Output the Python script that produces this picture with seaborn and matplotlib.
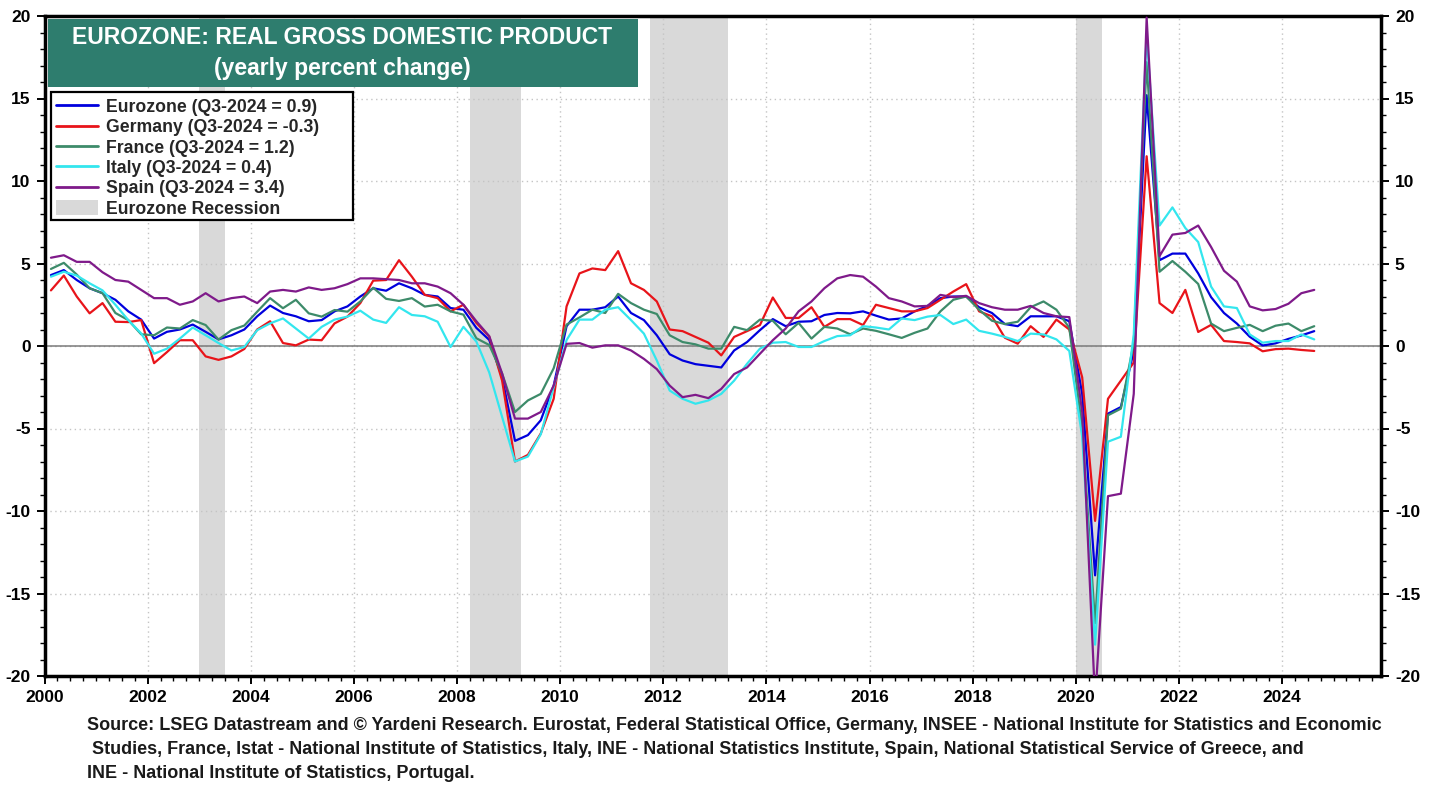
import numpy as np
import pandas as pd
import matplotlib
matplotlib.use("Agg")
import matplotlib.pyplot as plt
from matplotlib.lines import Line2D
from matplotlib.patches import Patch, Rectangle
from matplotlib.ticker import MultipleLocator
import seaborn as sns

# yearly % change of real GDP, quarterly from Q1-2000 to Q3-2024 (8 quarters per row)
eurozone = [4.3, 4.6, 4.0, 3.5, 3.2, 2.8, 2.1, 1.6,
            0.45, 0.86, 1.0, 1.3, 0.86, 0.4, 0.65, 1.0,
            1.8, 2.45, 2.0, 1.8, 1.5, 1.57, 2.1, 2.4,
            3.0, 3.5, 3.35, 3.8, 3.5, 3.1, 3.0, 2.3,
            2.2, 1.1, 0.37, -1.9, -5.75, -5.4, -4.5, -2.4,
            1.2, 2.2, 2.2, 2.35, 3.0, 2.0, 1.57, 0.65,
            -0.5, -0.88, -1.1, -1.2, -1.3, -0.27, 0.24, 0.96,
            1.63, 1.2, 1.47, 1.5, 1.88, 2.0, 1.98, 2.1,
            1.84, 1.6, 1.67, 2.1, 2.43, 2.9, 3.0, 3.0,
            2.35, 2.0, 1.33, 1.2, 1.8, 1.8, 1.8, 1.5,
            -2.9, -13.9, -4.1, -3.7, -0.3, 15.2, 5.2, 5.6,
            5.6, 4.4, 2.96, 2.0, 1.36, 0.56, 0.03, 0.16,
            0.43, 0.64, 0.9]
germany = [3.37, 4.27, 3.0, 1.98, 2.6, 1.47, 1.45, 1.57,
           -1.04, -0.37, 0.35, 0.35, -0.63, -0.84, -0.63, -0.18,
           1.0, 1.5, 0.18, 0.04, 0.39, 0.35, 1.37, 1.78,
           2.6, 3.96, 4.0, 5.2, 4.2, 3.1, 2.9, 2.1,
           2.5, 1.4, 0.57, -2.1, -7.0, -6.6, -5.3, -3.2,
           2.4, 4.4, 4.7, 4.6, 5.75, 3.8, 3.4, 2.7,
           1.0, 0.9, 0.55, 0.2, -0.57, 0.55, 0.9, 1.27,
           2.94, 1.7, 1.7, 2.35, 1.16, 1.63, 1.63, 1.27,
           2.5, 2.3, 2.1, 2.1, 2.3, 2.8, 3.3, 3.75,
           2.1, 1.8, 0.5, 0.14, 1.2, 0.55, 1.6, 1.0,
           -1.9, -10.6, -3.2, -2.1, -1.0, 11.5, 2.6, 2.0,
           3.4, 0.85, 1.28, 0.3, 0.24, 0.16, -0.32, -0.19,
           -0.16, -0.24, -0.3]
france = [4.67, 5.04, 4.33, 3.5, 3.2, 2.0, 1.57, 0.71,
          0.65, 1.12, 1.06, 1.57, 1.27, 0.39, 0.96, 1.24,
          2.08, 2.9, 2.29, 2.8, 1.98, 1.78, 2.18, 2.08,
          2.7, 3.53, 2.86, 2.73, 2.9, 2.39, 2.5, 2.1,
          1.9, 0.47, 0.06, -1.67, -4.0, -3.3, -2.9, -1.35,
          1.3, 1.73, 2.2, 2.0, 3.16, 2.6, 2.2, 1.94,
          0.65, 0.24, 0.1, -0.16, -0.16, 1.16, 0.96, 1.6,
          1.53, 0.71, 1.4, 0.45, 1.16, 1.06, 0.71, 1.06,
          0.92, 0.71, 0.49, 0.8, 1.06, 2.1, 2.8, 3.0,
          2.2, 1.53, 1.33, 1.47, 2.35, 2.7, 2.2, 1.1,
          -5.0, -16.8, -4.2, -3.8, 0.2, 17.2, 4.5, 5.15,
          4.5, 3.76, 1.36, 0.9, 1.1, 1.28, 0.9, 1.23,
          1.36, 0.9, 1.2]
italy = [4.2, 4.5, 4.27, 3.8, 3.37, 2.5, 1.57, 0.76,
         -0.47, -0.16, 0.45, 1.12, 0.65, 0.18, -0.27, -0.06,
         0.96, 1.37, 1.67, 1.06, 0.45, 1.16, 1.6, 1.78,
         2.14, 1.6, 1.4, 2.35, 1.88, 1.8, 1.47, -0.06,
         1.16, 0.27, -1.6, -4.3, -7.0, -6.7, -5.35, -2.5,
         0.36, 1.6, 1.6, 2.2, 2.35, 1.57, 0.75, -0.88,
         -2.7, -3.2, -3.5, -3.3, -2.9, -2.1, -1.08, -0.16,
         0.2, 0.24, -0.06, -0.06, 0.3, 0.6, 0.65, 1.2,
         1.12, 1.0, 1.67, 1.57, 1.78, 1.88, 1.33, 1.6,
         0.92, 0.75, 0.55, 0.3, 0.75, 0.7, 0.4, -0.3,
         -5.5, -18.1, -5.8, -5.5, 0.7, 18.9, 7.3, 8.4,
         7.15, 6.3, 3.6, 2.4, 2.3, 0.7, 0.2, 0.3,
         0.3, 0.7, 0.4]
spain = [5.35, 5.5, 5.1, 5.1, 4.47, 4.0, 3.9, 3.4,
         2.9, 2.9, 2.5, 2.7, 3.2, 2.7, 2.9, 3.0,
         2.6, 3.3, 3.4, 3.3, 3.55, 3.4, 3.5, 3.75,
         4.1, 4.1, 4.05, 4.0, 3.8, 3.8, 3.6, 3.2,
         2.5, 1.5, 0.6, -1.67, -4.4, -4.4, -4.0, -2.4,
         0.13, 0.18, -0.1, 0.04, 0.04, -0.27, -0.78, -1.4,
         -2.4, -3.1, -2.96, -3.16, -2.6, -1.7, -1.3, -0.47,
         0.35, 1.06, 2.1, 2.7, 3.5, 4.1, 4.3, 4.2,
         3.6, 2.9, 2.7, 2.4, 2.43, 3.1, 2.96, 3.04,
         2.6, 2.35, 2.2, 2.2, 2.43, 2.0, 1.8, 1.75,
         -4.0, -21.5, -9.1, -8.95, -2.9, 19.9, 5.45, 6.75,
         6.85, 7.3, 6.0, 4.56, 3.9, 2.4, 2.16, 2.24,
         2.56, 3.2, 3.4]

series_names = ["Eurozone", "Germany", "France", "Italy", "Spain"]
legend_labels = ["Eurozone (Q3-2024 = 0.9)", "Germany (Q3-2024 = -0.3)",
                 "France (Q3-2024 = 1.2)", "Italy (Q3-2024 = 0.4)",
                 "Spain (Q3-2024 = 3.4)", "Eurozone Recession"]
series_colors = ["#0000dd", "#e8141a", "#3d8b6a", "#33e6ee", "#7f1a8a"]

# recession bands (start, end) in decimal years
recession_start = [2003.0, 2008.25, 2011.75, 2020.0]
recession_end = [2003.5, 2009.25, 2013.25, 2020.5]

year_ticks = list(range(2000, 2026, 2))
value_ticks = list(range(-20, 21, 5))

# plotted at the middle of each quarter
dates = 2000 + np.arange(len(eurozone)) / 4 + 0.125
df = pd.concat([pd.DataFrame({"date": dates, "value": v, "series": n})
                for n, v in zip(series_names, [eurozone, germany, france, italy, spain])])

sns.set_style("white")
plt.rcParams["font.family"] = ["Liberation Sans", "DejaVu Sans"]

W, H = 1438, 785
fig = plt.figure(figsize=(W / 100, H / 100), dpi=100)
ax = fig.add_axes([44.5 / W, 1 - 676 / H, (1381 - 44.5) / W, (676 - 16) / H])

for s, e in zip(recession_start, recession_end):
    ax.axvspan(s, e, color="#d9d9d9", lw=0, zorder=0)
ax.axhline(0, color="#7a7a7a", lw=1.1, zorder=1)

sns.lineplot(data=df, x="date", y="value", hue="series", hue_order=series_names,
             palette=dict(zip(series_names, series_colors)), estimator=None,
             linewidth=1.6, legend=False, ax=ax, zorder=3)

ax.set_xlabel("")
ax.set_ylabel("")
ax.set_xticks(year_ticks)
ax.set_xticklabels([str(y) for y in year_ticks], fontweight="bold")
ax.set_yticks(value_ticks)
ax.set_yticklabels([str(v) for v in value_ticks], fontweight="bold")
ax.xaxis.set_minor_locator(MultipleLocator(0.25))
ax.yaxis.set_minor_locator(MultipleLocator(1))
ax.set_xlim(2000, 2025.92)
ax.set_ylim(-20, 20)
ax.grid(True, which="major", ls=(0, (1, 2.5)), color="#c4c4c4", lw=1.0)
ax.set_axisbelow(True)

ax.tick_params(axis="both", which="both", direction="out", colors="black")
ax.tick_params(axis="y", which="both", left=True, right=True, labelleft=True, labelright=True)
ax.tick_params(axis="x", which="both", bottom=True, top=False)
ax.tick_params(which="major", length=6, width=1.4, labelsize=12.5, pad=4)
ax.tick_params(which="minor", length=3.5, width=1.0)
for lab in ax.yaxis.get_ticklabels() + ax.xaxis.get_ticklabels():
    lab.set_fontweight("bold")
for t in ax.yaxis.get_major_ticks():
    t.label2.set_fontweight("bold")
for sp in ax.spines.values():
    sp.set_linewidth(2.5)
    sp.set_color("black")

# title box
fig.patches.append(Rectangle((48 / W, 1 - 87 / H), (638 - 48) / W, (87 - 19) / H,
                             transform=fig.transFigure, facecolor="#2e7d6e",
                             edgecolor="none", zorder=4))
fig.text(342 / W, 1 - 37 / H, "EUROZONE: REAL GROSS DOMESTIC PRODUCT", ha="center",
         va="center", color="white", fontweight="bold", fontsize=16.5, zorder=5)
fig.text(342 / W, 1 - 69 / H, "(yearly percent change)", ha="center",
         va="center", color="white", fontweight="bold", fontsize=16.5, zorder=5)

# legend box drawn separately so it keeps the wide right margin of the original
fig.patches.append(Rectangle((50.5 / W, 1 - 220 / H), (352.7 - 50.5) / W, (220 - 92) / H,
                             transform=fig.transFigure, facecolor="white",
                             edgecolor="black", lw=1.6, zorder=5))
handles = [Line2D([0], [0], color=c, lw=2) for c in series_colors]
handles.append(Patch(facecolor="#d9d9d9", edgecolor="none"))
leg = fig.legend(handles, legend_labels, loc="upper left",
                 bbox_to_anchor=(51.5 / W, 1 - 94 / H), frameon=False,
                 prop=dict(weight="bold", size=12.7),
                 handlelength=2.4, handleheight=0.9, labelspacing=0.17, borderpad=0.25,
                 handletextpad=0.45, borderaxespad=0)
leg.set_zorder(6)

footnote = [
    "Source: LSEG Datastream and \u00a9 Yardeni Research. Eurostat, Federal Statistical Office, Germany, INSEE - National Institute for Statistics and Economic",
    " Studies, France, Istat - National Institute of Statistics, Italy, INE - National Statistics Institute, Spain, National Statistical Service of Greece, and",
    "INE - National Institute of Statistics, Portugal.",
]
for line, ypix in zip(footnote, [725, 749, 773]):
    fig.text(87 / W, 1 - ypix / H, line, ha="left", va="center", color="#1a1a1a",
             fontweight="bold", fontsize=12.95)

fig.savefig("out.png", dpi=100)
